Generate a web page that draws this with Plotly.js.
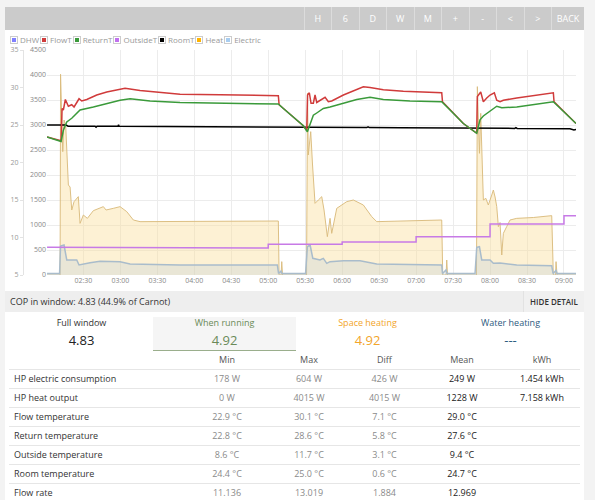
<!DOCTYPE html>
<html><head><meta charset="utf-8">
<script src="https://cdn.plot.ly/plotly-3.0.1.min.js"></script>
<style>
html,body{margin:0;padding:0;background:#f3f3f3;width:595px;height:500px;overflow:hidden;font-family:'Open Sans',sans-serif;}
#panel{position:absolute;left:5px;top:7px;width:579px;height:493px;background:#fff;}
#topbar{position:absolute;left:5px;top:7px;width:579px;height:23px;background:#cbcbcb;}
.btn{position:absolute;top:0;height:23px;line-height:23px;color:#fff;font-size:9px;text-align:center;border-left:1px solid #dcdcdc;box-sizing:border-box;}
#legend{position:absolute;left:10px;top:34px;height:12px;font-size:8px;color:#999;white-space:nowrap;}
.li{display:inline-block;margin-right:1px;}
.lb{display:inline-block;width:4px;height:4px;border:1px solid #ccc;padding:1px;vertical-align:-1px;margin-right:2px;}
.lb span{display:block;width:4px;height:4px;}
#chart{position:absolute;left:5px;top:45px;width:579px;height:245px;}
#cop{position:absolute;left:5px;top:291px;width:579px;height:21px;background:#eeeeee;}
#coptext{position:absolute;left:5px;top:0;line-height:21px;font-size:9px;color:#333;}
#hide{position:absolute;right:0;top:0;width:60px;height:21px;line-height:21px;font-size:8px;font-weight:600;color:#333;text-align:center;border-left:1px solid #e2e2e2;background:#f0f0f0;}
.stat{position:absolute;top:317px;width:143px;height:33px;text-align:center;}
.stat .l{font-size:9px;line-height:12px;}
.stat .v{font-size:13px;line-height:18px;margin-top:2px;}
.cell{position:absolute;line-height:12px;font-size:9px;white-space:nowrap;}
.hr{position:absolute;left:9px;width:571px;height:1px;background:#e6e6e6;}
</style></head><body>
<div id="panel"></div>
<div id="topbar"></div>
<div id="legend"></div>
<div id="chart"></div>
<div id="cop"><div id="coptext"></div><div id="hide">HIDE DETAIL</div></div>
<div id="stats"></div>
<div id="table"></div>
<script>
// ---- buttons & legend ----
const buttonLabels = ['H','6','D','W','M','+','-','<','>','BACK'];
const legendNames = ['DHW','FlowT','ReturnT','OutsideT','RoomT','Heat','Electric'];
const legendColors = ['#8080ff','#d03b3b','#3a9a3a','#c070ee','#000000','#ffb300','#a8cdf0'];

// ---- time series (clock times on the day shown) ----
const flowTimes = ['02:00:33','02:11:55','02:12:43','02:13:46','02:15:24','02:17:50','02:20:35','02:22:27','02:26:31','02:28:42','02:32:46','02:40:52','02:48:59','02:57:06','03:03:50','03:16:00','03:32:14','03:48:28','04:20:55','05:08:13','05:08:50','05:12:17','05:20:24','05:28:30','05:31:16','05:31:55','05:33:22','05:34:45','05:36:37','05:38:00','05:39:22','05:46:08','05:48:48','05:51:32','06:01:00','06:09:05','06:17:12','06:22:37','06:33:25','06:49:39','07:20:48','07:21:25','07:27:32','07:38:20','07:49:12','07:49:42','07:52:26','07:54:34','07:57:20','08:00:00','08:03:29','08:05:26','08:08:07','08:10:48','08:21:40','08:35:08','08:51:22','08:51:56','09:09:48'];
const flowVals = [23.4,22.9,27.2,27.0,28.4,27.5,27.7,27.4,28.5,28.2,28.4,29.0,29.4,29.7,29.9,29.6,29.3,29.1,29.05,28.9,27.7,27.2,26.1,24.9,24.3,29.0,29.3,27.9,27.9,29.0,28.0,28.7,28.1,28.2,29.0,29.6,30.1,30.0,29.7,29.5,29.3,28.1,27.0,25.2,23.9,28.8,29.4,28.1,28.6,29.0,29.3,28.3,28.1,28.3,28.6,28.9,29.3,28.1,25.2];

const returnTimes = ['02:00:33','02:11:55','02:13:46','02:16:32','02:20:35','02:27:19','02:38:07','02:48:59','02:59:47','03:07:54','03:24:07','03:48:28','05:08:13','05:12:17','05:20:24','05:28:30','05:31:47','05:34:00','05:35:20','05:36:37','05:39:22','05:44:44','05:50:10','06:01:00','06:11:50','06:22:37','06:33:25','06:55:00','07:20:48','07:27:32','07:38:20','07:49:12','07:51:52','07:54:34','08:00:00','08:05:26','08:09:30','08:21:40','08:51:22','09:09:48'];
const returnVals = [23.4,22.8,24.3,25.4,25.9,27.0,27.4,27.9,28.3,28.5,28.2,28.0,27.8,27.2,26.1,24.9,24.1,25.2,25.9,26.3,26.6,27.2,27.4,27.9,28.4,28.7,28.4,28.2,28.1,27.0,25.2,23.9,25.7,26.2,26.8,27.5,27.3,27.4,28.1,25.2];

const outsideTimes = ['02:00:33','03:00:00','03:00:01','05:00:00','05:00:01','06:00:00','06:00:01','07:00:00','07:00:01','08:00:00','08:00:01','09:00:00','09:00:01','09:10:00'];
const outsideVals = [8.7,8.7,8.6,8.6,9.1,9.1,9.4,9.4,10.1,10.1,11.8,11.8,12.9,12.9];

const roomTimes = ['02:00:33','02:15:58','02:17:35','02:39:30','02:40:18','02:41:07','02:58:10','02:58:34','02:59:00','03:48:28','04:20:00','04:21:00','04:22:00','05:08:27','05:34:00','06:20:00','06:21:00','06:22:00','06:46:57','07:27:32','08:08:07','08:20:00','08:21:00','08:22:00','09:04:50','09:08:05','09:09:48'];
const roomVals = [25.0,25.0,24.85,24.85,24.72,24.85,24.85,25.05,24.85,24.8,24.78,24.7,24.78,24.75,24.7,24.66,24.75,24.66,24.65,24.6,24.55,24.55,24.65,24.55,24.5,24.35,24.4];

const heatTimes = ['02:00:33','02:11:06','02:11:20','02:11:30','02:13:17','02:14:20','02:15:43','02:17:50','02:19:13','02:20:35','02:22:27','02:25:56','02:27:19','02:30:00','02:33:15','02:38:07','02:46:14','02:48:25','02:54:20','02:59:47','03:05:13','03:10:34','03:16:00','03:48:28','04:29:00','05:08:13','05:08:50','05:10:25','05:10:59','05:11:38','05:31:06','05:31:55','05:32:30','05:34:30','05:35:58','05:38:00','05:40:41','05:43:26','05:45:18','05:47:59','05:50:10','05:51:32','05:55:36','06:03:43','06:09:05','06:17:12','06:24:00','06:28:04','07:20:48','07:21:37','07:24:18','07:24:52','07:25:31','07:49:00','07:49:42','07:51:24','07:52:26','07:54:34','07:56:36','07:58:36','08:01:23','08:02:41','08:04:05','08:05:26','08:06:45','08:08:07','08:09:30','08:10:48','08:13:31','08:16:13','08:21:40','08:35:08','08:50:03','08:51:22','08:53:09','08:53:33','08:54:22','09:10:00'];
const heatVals = [0,0,2000,4015,2467,3100,2967,1800,1760,1300,1467,1567,1033,1200,1133,1287,1367,1300,1333,1367,1267,1100,1067,1067,1080,1080,0,0,267,0,0,3640,2400,2867,2200,1433,1500,1567,1300,767,1133,833,1333,1467,1500,1400,1167,1067,1100,0,0,300,0,0,3767,2433,3233,1500,1533,1400,1600,1700,1560,1367,967,1050,400,833,967,1100,1133,1150,1187,0,0,267,0,0];

const elecTimes = ['02:00:33','02:10:42','02:11:30','02:14:20','02:16:32','02:24:38','02:26:31','02:35:26','02:43:33','02:59:47','03:07:54','03:48:28','05:07:24','05:08:23','05:10:25','05:11:14','05:30:18','05:31:47','05:34:00','05:36:12','05:42:00','05:44:44','05:47:30','05:50:10','06:01:00','06:14:30','06:28:04','07:20:48','07:21:25','07:24:18','07:25:07','07:47:50','07:49:12','07:51:24','07:53:16','08:00:00','08:02:41','08:08:07','08:21:40','08:50:03','08:51:07','08:53:33','08:54:22','09:10:00'];
const elecVals = [30,30,580,600,300,300,200,247,273,267,220,200,200,30,80,30,30,567,600,333,300,333,233,267,287,287,220,200,30,100,30,30,553,567,300,300,233,240,200,187,30,90,30,30];

// ---- summary table ----
const copText = 'COP in window: 4.83 (44.9% of Carnot)';
const statLabels = ['Full window','When running','Space heating','Water heating'];
const statValues = ['4.83','4.92','4.92','---'];
const statColors = ['#333333','#6a8a58','#f2a52a','#2d5a80'];
const colHeaders = ['Min','Max','Diff','Mean','kWh'];
const rowLabels = ['HP electric consumption','HP heat output','Flow temperature','Return temperature','Outside temperature','Room temperature','Flow rate'];
const minVals = ['178 W','0 W','22.9 °C','22.8 °C','8.6 °C','24.4 °C','11.136'];
const maxVals = ['604 W','4015 W','30.1 °C','28.6 °C','11.7 °C','25.0 °C','13.019'];
const diffVals = ['426 W','4015 W','7.1 °C','5.8 °C','3.1 °C','0.6 °C','1.884'];
const meanVals = ['249 W','1228 W','29.0 °C','27.6 °C','9.4 °C','24.7 °C','12.969'];
const kwhVals = ['1.454 kWh','7.158 kWh','','','','',''];

// build top bar
const bar = document.getElementById('topbar');
let bx = 298.5; // relative to bar left
buttonLabels.forEach((b,i)=>{
  const d=document.createElement('div'); d.className='btn'; d.textContent=b;
  const w = (b==='BACK')?33:27.5;
  d.style.left=bx+'px'; d.style.width=w+'px'; bx+=w; bar.appendChild(d);
});
// legend
const leg=document.getElementById('legend');
legendNames.forEach((n,i)=>{
  const s=document.createElement('span'); s.className='li';
  s.innerHTML='<span class="lb"><span style="background:'+legendColors[i]+'"></span></span>'+n;
  leg.appendChild(s);
});
document.getElementById('coptext').textContent=copText;
// stats
const st=document.getElementById('stats');
statLabels.forEach((l,i)=>{
  const d=document.createElement('div'); d.className='stat';
  d.style.left=(10+i*143)+'px';
  if(i===1){d.style.background='#f5f5f5';d.style.borderBottom='1px solid #9aae8c';}
  d.innerHTML='<div class="l" style="color:'+statColors[i]+'">'+l+'</div><div class="v" style="color:'+(i===0?'#222':statColors[i])+'">'+statValues[i]+'</div>';
  st.appendChild(d);
});
// table
const tb=document.getElementById('table');
const colCenters=[227,309,384.5,462,542];
function cell(txt,x,y,align,color,weight){
  const d=document.createElement('div'); d.className='cell'; d.textContent=txt;
  d.style.top=(y-6)+'px'; d.style.color=color; if(weight) d.style.fontWeight=weight;
  if(align==='left'){d.style.left=x+'px';}
  else {d.style.left=(x-50)+'px'; d.style.width='100px'; d.style.textAlign='center';}
  tb.appendChild(d);
}
colHeaders.forEach((h,i)=>cell(h,colCenters[i],360,'center','#555'));
for(let r=0;r<rowLabels.length;r++){
  const y=379+19*r;
  const hr=document.createElement('div'); hr.className='hr'; hr.style.top=(369+19*r)+'px'; tb.appendChild(hr);
  cell(rowLabels[r],14,y,'left','#333');
  cell(minVals[r],colCenters[0],y,'center','#8a8a8a');
  cell(maxVals[r],colCenters[1],y,'center','#8a8a8a');
  cell(diffVals[r],colCenters[2],y,'center','#8a8a8a');
  cell(meanVals[r],colCenters[3],y,'center','#222');
  cell(kwhVals[r],colCenters[4],y,'center','#222');
}

// ---- chart ----
const day='2024-01-01 ';
const T=a=>a.map(t=>day+t);
const traces=[
  {x:T(heatTimes),y:heatVals,type:'scatter',mode:'lines',fill:'tozeroy',fillcolor:'rgba(250,224,160,0.45)',line:{color:'rgba(218,188,125,0.95)',width:1},yaxis:'y',name:'Heat'},
  {x:T(elecTimes),y:elecVals,type:'scatter',mode:'lines',fill:'tozeroy',fillcolor:'rgba(175,200,220,0.25)',line:{color:'#a9bccb',width:1.5},yaxis:'y',name:'Electric'},
  {x:T(outsideTimes),y:outsideVals,type:'scatter',mode:'lines',line:{color:'#c77ae6',width:1.5},yaxis:'y2',name:'OutsideT'},
  {x:T(roomTimes),y:roomVals,type:'scatter',mode:'lines',line:{color:'#000000',width:1.5},yaxis:'y2',name:'RoomT'},
  {x:T(flowTimes),y:flowVals,type:'scatter',mode:'lines',line:{color:'#d03b3b',width:1.5},yaxis:'y2',name:'FlowT'},
  {x:T(returnTimes),y:returnVals,type:'scatter',mode:'lines',line:{color:'#3a9a3a',width:1.5},yaxis:'y2',name:'ReturnT'}
];
const layout={
  width:579,height:245,margin:{l:18,r:8,t:5,b:15},
  paper_bgcolor:'rgba(0,0,0,0)',plot_bgcolor:'#ffffff',showlegend:false,
  font:{family:'Open Sans, sans-serif',size:7,color:'#888'},
  xaxis:{type:'date',domain:[0.0434,1],range:[day+'02:00:30',day+'09:09:45'],tickformat:'%H:%M',dtick:1800000,tick0:day+'00:00',
    showgrid:true,gridcolor:'#ececec',zeroline:false,showline:false,ticks:'',tickfont:{size:7,color:'#888'}},
  yaxis:{range:[0,4500],dtick:500,showgrid:true,gridcolor:'#ececec',zeroline:false,showline:false,ticks:'',anchor:'x',side:'left',tickfont:{size:7,color:'#888'}},
  yaxis2:{range:[5,35],dtick:5,overlaying:'y',anchor:'free',position:0,side:'left',showgrid:false,zeroline:false,showline:true,linecolor:'#e3e3e3',ticks:'outside',ticklen:3,tickcolor:'#e3e3e3',tickfont:{size:7,color:'#999'}}
};
Plotly.newPlot('chart',traces,layout,{staticPlot:true,displayModeBar:false});
</script>
</body></html>
